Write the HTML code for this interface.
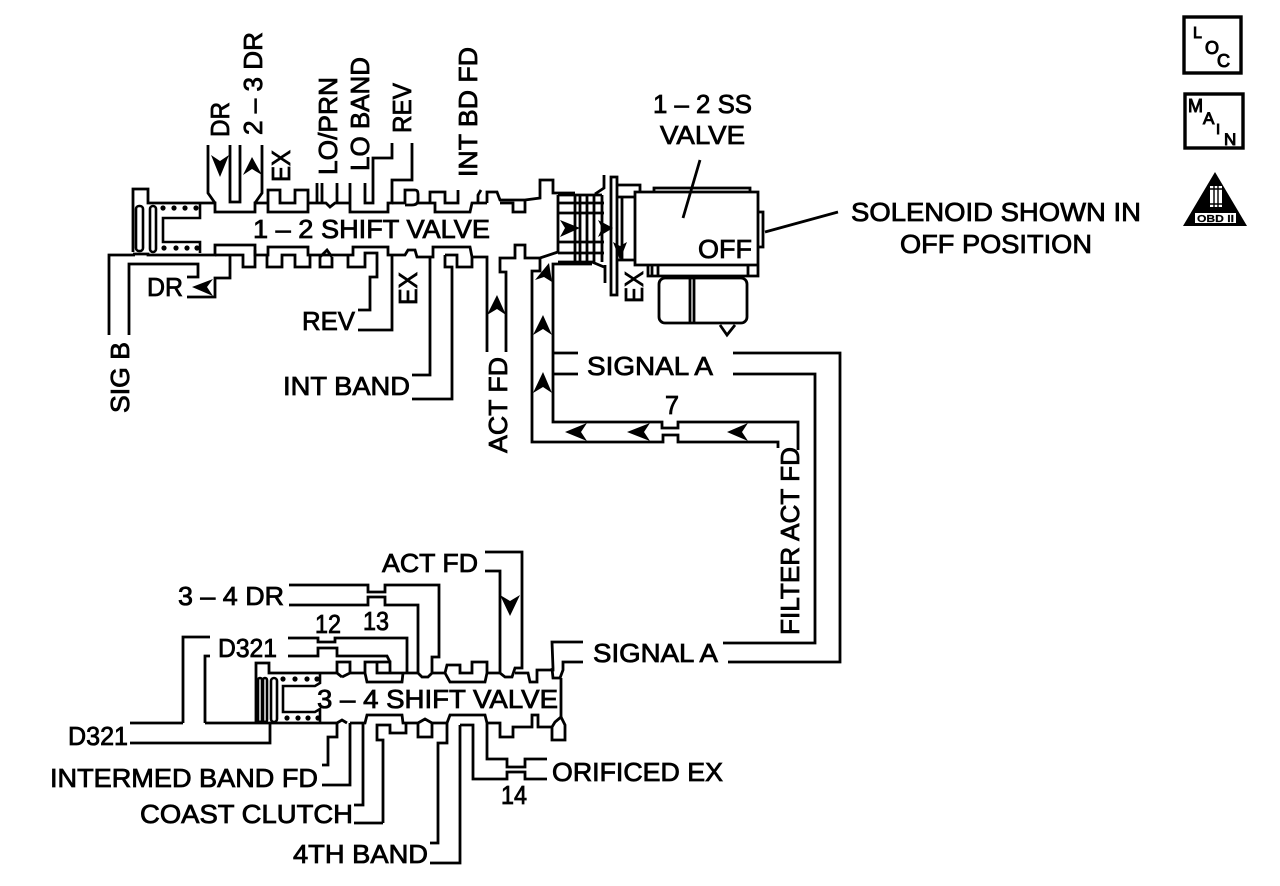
<!DOCTYPE html>
<html><head><meta charset="utf-8"><style>
html,body{margin:0;padding:0;background:#fff;width:1280px;height:886px;overflow:hidden}
svg{display:block}
.l{fill:none;stroke:#000;stroke-width:2.8;stroke-linejoin:miter}
.t{stroke-width:2.6}
text{font-family:"Liberation Sans",sans-serif;font-size:26px;fill:#000;stroke:#000;stroke-width:.8}
</style></head><body>
<svg width="1280" height="886" viewBox="0 0 1280 886" xmlns="http://www.w3.org/2000/svg">
<g class="l">
<!-- top valve upper edge -->
<path d="M133 252V189H148V203H215V212H255V203H268V212H308V203H317V183M268 203V190H280V203H295V190H308V203M317 203H326L330 207L335 203H350V212H388V203H392V180H412V143M350 203V183M337 203V183M322 203V183M365 183V203H373V158H392V143"/>
<path d="M208 145V193L215 203M230 145V202H240V145M262 145V193L255 203"/>
<path d="M392 203H405V190H415Q418 190 418 194V200Q418 205 412 205H405M418 203H435V212H470L472 203H478V195L481 190M430 203V192H445V203H458V190M487 203H472M487 203V192H497L500 200H525V212H513V203H500M525 200L540 198V180H553V193H575M558 195V252"/>
<!-- top valve lower edge -->
<path d="M133 254H148V255H215V245H255V255H268V247H308V255H353V247H388V255H405L408 250H415L417 257H433V247H470L472 257H487V352M430 257V375H412M445 255H457V267H472V257M445 255V267H452V399H412"/>
<path d="M506 352V272H500V258H515V245H525V258H540L558 252"/>
<path d="M109 335V255H135M129 335V264H198V277H187M230 255V278H215V297H187M215 255H230H243V267H255V250M267 255V267H282V255H295V267H310V255M320 255V267H332V257M348 255V267H365V253H377V277H370V310H358M392 255V330H358M320 257L327 250L332 257"/>
<!-- grid and plate -->
<path d="M558 195H602M558 203H604M558 213H604M558 242H604M558 253H604M558 262H592L604 267M575 195V262M580 195V262M587 195V262M594 195V262M602 195V262"/>
<path d="M604 175V188L595 194M605 265V283M611 177H617V295H611ZM617 185H640V192M617 197H635M617 260H635M622 197V260"/>
<path d="M540 258V271H532V442H663V435H678V442H778V448M553 422V264H592M553 353H578M553 374H578M553 374V422H662V428H678V422H798V450M733 353H840V662H728M733 374H815V643H723"/>
<!-- solenoid -->
<path d="M635 192H758V265H635ZM635 265H648V276H758V265M658 265V276M652 265V276M748 265V276M654 192V188H750V192M758 212H763V247H758M765 232L838 212M700 160L683 218"/>
<rect x="659" y="278" width="88" height="45" rx="6"/>
<path d="M690 278V323M694 278V323M720 325L727 335L735 325"/>
<!-- bottom valve upper -->
<path d="M256 723V663H269V673H337V662H350V673H365V662H390V673H403M342 677L337 673M342 677L350 673M365 673L367 682H402L403 673M377 662V673H390M403 673H418L422 677H428L432 673V657H439V585H385V592H368V585H289M289 605H368V597H385V605H418V673M288 638H318V642H335V638H407V673M288 656H318V648H337V656H387L390 662M432 673H445L447 665H460V673H472V662H487V673H500L505 677H512L515 668H522V552H485M485 571H500V673M445 673L450 682H485L487 673M515 673H528L530 682H537V670H553V668L552 642H583M583 662H563V670L560 678H553L552 668M561 678V717"/>
<path d="M183 723V637H210M205 723V656H210M130 723H183M205 723H270V743H130M270 723H337L342 720L347 723"/>
<path d="M337 723V737H328V765H322M350 723V785H322M363 723V805H354M383 823H354M383 823V740H377V725H390V733H406V723H403L402 715H367L365 723H350M406 723H418V737H432V723H447V743H438V843H430M418 723L425 719L432 723M447 723L450 715H485L487 723V759H507V767H525V759H547M460 725V863H430M460 725H473V779H507V772H525V779H547M487 723H500V737H513V727H532V715H538V727H552V740H565V725L561 717L555 722L552 727"/>
</g>
<!-- springs -->
<g class="l t">
<rect x="136" y="206" width="7" height="45" rx="3"/>
<rect x="150" y="206" width="6" height="46" rx="3"/>
<path d="M200 203V218H163V242H200V253"/>
<rect x="258" y="678" width="4" height="44" rx="2"/>
<rect x="263" y="678" width="4" height="44" rx="2"/>
<rect x="271" y="678" width="6" height="44" rx="3"/>
<path d="M320 674V683L315 686H283V712H315L320 709V723"/>
</g>
<g fill="#000">
<circle cx="163" cy="208" r="2.6"/><circle cx="174" cy="208" r="2.6"/><circle cx="185" cy="208" r="2.6"/><circle cx="196" cy="208" r="2.6"/>
<circle cx="164" cy="248" r="2.6"/><circle cx="176" cy="248" r="2.6"/><circle cx="187" cy="248" r="2.6"/><circle cx="197" cy="248" r="2.6"/>
<circle cx="283" cy="679" r="2.6"/><circle cx="295" cy="679" r="2.6"/><circle cx="307" cy="679" r="2.6"/><circle cx="317" cy="679" r="2.6"/>
<circle cx="287" cy="718" r="2.6"/><circle cx="298" cy="718" r="2.6"/><circle cx="308" cy="718" r="2.6"/><circle cx="318" cy="718" r="2.6"/>
</g>
<!-- arrowheads -->
<g fill="#000">
<polygon points="220,177 211,155 220,161 229,155"/>
<polygon points="252,157 243,175 252,169 262,175"/>
<polygon points="192,287 213,279 207,287 213,296"/>
<polygon points="497,295 487,315 497,309 506,315"/>
<polygon points="543,315 533,335 543,329 552,335"/>
<polygon points="543,372 533,393 543,387 552,393"/>
<polygon points="549,263 535,280 544,277 552,282"/>
<polygon points="565,432 587,423 581,432 587,441"/>
<polygon points="627,432 650,423 644,432 650,441"/>
<polygon points="727,432 748,423 742,432 748,441"/>
<polygon points="510,616 500,595 510,601 520,595"/>
<polygon points="580,228 560,220 565,228 560,237"/>
<polygon points="613,228 598,220 602,228 598,237"/>
<polygon points="620,260 613,242 620,246 627,242"/>
</g>
<!-- horizontal labels -->
<text x="253" y="238" textLength="237" lengthAdjust="spacingAndGlyphs">1 – 2 SHIFT VALVE</text>
<text x="317" y="708" textLength="241" lengthAdjust="spacingAndGlyphs">3 – 4 SHIFT VALVE</text>
<text x="851" y="221" textLength="290" lengthAdjust="spacingAndGlyphs">SOLENOID SHOWN IN</text>
<text x="900" y="253" textLength="192" lengthAdjust="spacingAndGlyphs">OFF POSITION</text>
<text x="653" y="113" textLength="99" lengthAdjust="spacingAndGlyphs">1 – 2 SS</text>
<text x="660" y="144" textLength="85" lengthAdjust="spacingAndGlyphs">VALVE</text>
<text x="698" y="258" textLength="54" lengthAdjust="spacingAndGlyphs">OFF</text>
<text x="587" y="375" textLength="126" lengthAdjust="spacingAndGlyphs">SIGNAL A</text>
<text x="593" y="662" textLength="125" lengthAdjust="spacingAndGlyphs">SIGNAL A</text>
<text x="665" y="414" textLength="14" lengthAdjust="spacingAndGlyphs">7</text>
<text x="147" y="296" textLength="36" lengthAdjust="spacingAndGlyphs">DR</text>
<text x="302" y="330" textLength="53" lengthAdjust="spacingAndGlyphs">REV</text>
<text x="283" y="395" textLength="127" lengthAdjust="spacingAndGlyphs">INT BAND</text>
<text x="68" y="745" textLength="60" lengthAdjust="spacingAndGlyphs">D321</text>
<text x="218" y="657" textLength="59" lengthAdjust="spacingAndGlyphs">D321</text>
<text x="50" y="787" textLength="268" lengthAdjust="spacingAndGlyphs">INTERMED BAND FD</text>
<text x="140" y="823" textLength="213" lengthAdjust="spacingAndGlyphs">COAST CLUTCH</text>
<text x="293" y="863" textLength="135" lengthAdjust="spacingAndGlyphs">4TH BAND</text>
<text x="382" y="572" textLength="96" lengthAdjust="spacingAndGlyphs">ACT FD</text>
<text x="178" y="605" textLength="106" lengthAdjust="spacingAndGlyphs">3 – 4 DR</text>
<text x="315" y="633" textLength="26" lengthAdjust="spacingAndGlyphs">12</text>
<text x="363" y="630" textLength="26" lengthAdjust="spacingAndGlyphs">13</text>
<text x="501" y="804" textLength="26" lengthAdjust="spacingAndGlyphs">14</text>
<text x="552" y="781" textLength="171" lengthAdjust="spacingAndGlyphs">ORIFICED EX</text>
<!-- vertical labels -->
<text transform="translate(507 453) rotate(-90)" textLength="96" lengthAdjust="spacingAndGlyphs">ACT FD</text>
<text transform="translate(129 413) rotate(-90)" textLength="71" lengthAdjust="spacingAndGlyphs">SIG B</text>
<text transform="translate(229 137) rotate(-90)" textLength="35" lengthAdjust="spacingAndGlyphs">DR</text>
<text transform="translate(262 135) rotate(-90)" textLength="103" lengthAdjust="spacingAndGlyphs">2 – 3 DR</text>
<text transform="translate(290 182) rotate(-90)" textLength="32" lengthAdjust="spacingAndGlyphs">EX</text>
<text transform="translate(337 175) rotate(-90)" textLength="98" lengthAdjust="spacingAndGlyphs">LO/PRN</text>
<text transform="translate(369 171) rotate(-90)" textLength="114" lengthAdjust="spacingAndGlyphs">LO BAND</text>
<text transform="translate(411 133) rotate(-90)" textLength="50" lengthAdjust="spacingAndGlyphs">REV</text>
<text transform="translate(477 177) rotate(-90)" textLength="130" lengthAdjust="spacingAndGlyphs">INT BD FD</text>
<text transform="translate(417 305) rotate(-90)" textLength="33" lengthAdjust="spacingAndGlyphs">EX</text>
<text transform="translate(643 303) rotate(-90)" textLength="32" lengthAdjust="spacingAndGlyphs">EX</text>
<text transform="translate(799 635) rotate(-90)" textLength="188" lengthAdjust="spacingAndGlyphs">FILTER ACT FD</text>
<!-- icons -->
<rect x="1184" y="17" width="57" height="56" fill="#fff" stroke="#000" stroke-width="3.4"/>
<rect x="1185" y="94" width="58" height="54" fill="#fff" stroke="#000" stroke-width="3.4"/>
<text x="1193" y="38" style="font-size:16px;stroke-width:1">L</text>
<text x="1205" y="54" style="font-size:18px;stroke-width:1">O</text>
<text x="1217" y="67" style="font-size:18px;stroke-width:1">C</text>
<text x="1188" y="112" style="font-size:18px;stroke-width:1">M</text>
<text x="1203" y="124" style="font-size:17px;stroke-width:1">A</text>
<text x="1216" y="134" style="font-size:15px;stroke-width:1">I</text>
<text x="1224" y="145" style="font-size:17px;stroke-width:1">N</text>
<polygon points="1215,172 1183,226 1247,226" fill="#000"/>
<rect x="1195" y="213" width="41" height="10" fill="#fff"/>
<rect x="1210" y="186" width="12" height="21" fill="#fff"/>
<path d="M1214 186V207M1218 186V207M1210 189H1222M1210 204H1222" stroke="#000" stroke-width="1.4" fill="none"/>
<text x="1197" y="222" textLength="37" lengthAdjust="spacingAndGlyphs" style="font-size:10px;font-weight:bold;stroke-width:.2">OBD II</text>
</svg>
</body></html>
